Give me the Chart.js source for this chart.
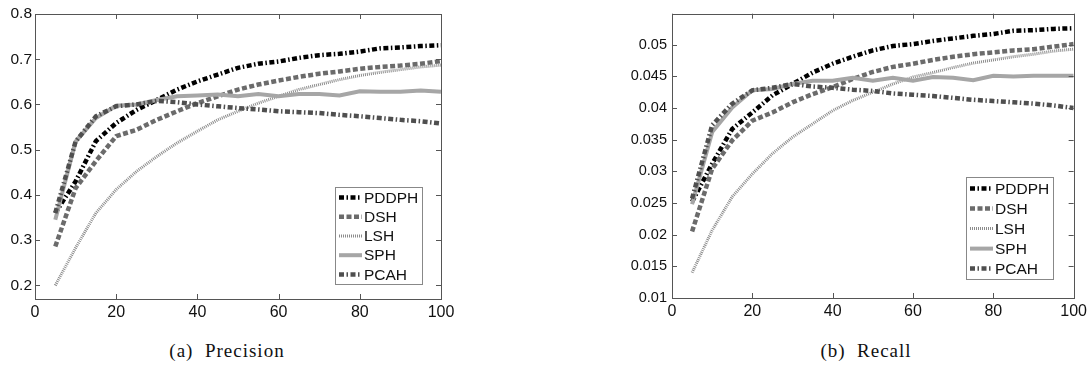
<!DOCTYPE html>
<html>
<head>
    <title>Precision / Recall</title>
    <style>
        body { margin: 0; background: #fff; width: 1091px; height: 365px; position: relative; overflow: hidden; }
        .panel { position: absolute; top: 0; }
        .caption {
            position: absolute;
            top: 340px;
            font-family: 'Liberation Serif', serif;
            font-size: 19px;
            letter-spacing: 1px;
            white-space: pre;
            color: #111;
            transform: translateX(-50%);
        }
    </style>
</head>
<body>

<div class="panel" style="left:0;width:460px;height:325px;">
    <canvas id="precChart" width="460" height="325"></canvas>
</div>
<div class="panel" style="left:590px;width:501px;height:325px;">
    <canvas id="recChart" width="501" height="325"></canvas>
</div>
<div class="caption" style="left:227px;">(a)  Precision</div>
<div class="caption" style="left:866px;">(b)  Recall</div>

<script src="https://cdn.jsdelivr.net/npm/chart.js"></script>
<script>
    // x = number of returned items
    const xVals = [5, 10, 15, 20, 25, 30, 35, 40, 45, 50, 55, 60, 65, 70, 75, 80, 85, 90, 95, 100];
    const xTicks = [0, 20, 40, 60, 80, 100];

    // (a) Precision
    const precPDDPH = [0.36, 0.43, 0.519, 0.559, 0.588, 0.61, 0.633, 0.651, 0.666, 0.681, 0.69, 0.695, 0.703, 0.709, 0.712, 0.717, 0.724, 0.726, 0.729, 0.731];
    const precDSH   = [0.286, 0.415, 0.475, 0.53, 0.544, 0.566, 0.585, 0.603, 0.618, 0.633, 0.644, 0.653, 0.661, 0.668, 0.673, 0.679, 0.683, 0.686, 0.69, 0.696];
    const precLSH   = [0.2, 0.283, 0.36, 0.412, 0.452, 0.485, 0.515, 0.541, 0.566, 0.585, 0.603, 0.618, 0.633, 0.644, 0.655, 0.664, 0.671, 0.677, 0.683, 0.687];
    const precSPH   = [0.345, 0.518, 0.57, 0.597, 0.6, 0.61, 0.618, 0.62, 0.622, 0.618, 0.623, 0.618, 0.623, 0.623, 0.62, 0.629, 0.628, 0.628, 0.631, 0.628];
    const precPCAH  = [0.36, 0.518, 0.574, 0.596, 0.6, 0.608, 0.605, 0.6, 0.596, 0.592, 0.589, 0.585, 0.583, 0.581, 0.577, 0.574, 0.57, 0.566, 0.563, 0.558];
    const precTicks = [0.2, 0.3, 0.4, 0.5, 0.6, 0.7, 0.8];

    // (b) Recall
    const recPDDPH = [0.0252, 0.0312, 0.0367, 0.0393, 0.042, 0.0438, 0.0456, 0.047, 0.0481, 0.0491, 0.0498, 0.0501, 0.0506, 0.051, 0.0514, 0.0517, 0.0522, 0.0523, 0.0525, 0.0526];
    const recDSH   = [0.0205, 0.0304, 0.0349, 0.038, 0.0393, 0.0409, 0.0422, 0.0433, 0.0446, 0.0457, 0.0465, 0.047, 0.0476, 0.0481, 0.0485, 0.0488, 0.0491, 0.0493, 0.0497, 0.0501];
    const recLSH   = [0.014, 0.0207, 0.026, 0.0296, 0.0328, 0.0354, 0.0375, 0.0396, 0.0412, 0.0425, 0.0438, 0.0449, 0.0456, 0.0464, 0.0471, 0.0476, 0.0481, 0.0485, 0.049, 0.0493];
    const recSPH   = [0.0248, 0.0362, 0.0401, 0.0428, 0.043, 0.0438, 0.0443, 0.0443, 0.0448, 0.0443, 0.0448, 0.0443, 0.0449, 0.0448, 0.0444, 0.0451, 0.045, 0.0451, 0.0451, 0.0451];
    const recPCAH  = [0.0257, 0.0373, 0.0407, 0.0428, 0.0432, 0.0438, 0.0434, 0.0432, 0.0429, 0.0427, 0.0423, 0.0421, 0.0419, 0.0416, 0.0413, 0.0411, 0.0409, 0.0407, 0.0404, 0.04];
    const recTicks = [0.01, 0.015, 0.02, 0.025, 0.03, 0.035, 0.04, 0.045, 0.05];

    const methods = ['PDDPH', 'DSH', 'LSH', 'SPH', 'PCAH'];

    // matlab-ish line styles, last one drawn on top
    const styles = {
        PDDPH: { borderColor: '#000000', borderWidth: 4.5, borderDash: [5, 2.5, 1.5, 2.5], order: 4 },
        DSH:   { borderColor: '#6b6b6b', borderWidth: 4.5, borderDash: [5, 2.5], order: 3 },
        LSH:   { borderColor: '#8c8c8c', borderWidth: 3, borderDash: [1, 1], order: 2 },
        SPH:   { borderColor: '#a6a6a6', borderWidth: 4, borderDash: [], order: 1 },
        PCAH:  { borderColor: '#4f4f4f', borderWidth: 4.5, borderDash: [5, 2.5, 1.5, 2.5], order: 0 }
    };

    // box + inward ticks on all sides, and the boxed legend
    const matlabFrame = {
        id: 'matlabFrame',
        afterDatasetsDraw(chart, args, opts) {
            const { ctx, chartArea: a, scales } = chart;
            ctx.save();
            ctx.setLineDash([]);
            ctx.strokeStyle = '#555';
            ctx.lineWidth = 1;
            ctx.strokeRect(Math.round(a.left) + 0.5, Math.round(a.top) + 0.5,
                Math.round(a.right - a.left), Math.round(a.bottom - a.top));
            const t = 5;
            ctx.beginPath();
            scales.x.ticks.forEach(tk => {
                const px = Math.round(scales.x.getPixelForValue(tk.value)) + 0.5;
                ctx.moveTo(px, a.bottom); ctx.lineTo(px, a.bottom - t);
                ctx.moveTo(px, a.top); ctx.lineTo(px, a.top + t);
            });
            scales.y.ticks.forEach(tk => {
                const py = Math.round(scales.y.getPixelForValue(tk.value)) + 0.5;
                ctx.moveTo(a.left, py); ctx.lineTo(a.left + t, py);
                ctx.moveTo(a.right, py); ctx.lineTo(a.right - t, py);
            });
            ctx.stroke();

            // legend
            const bx = Math.round(a.right - opts.right - opts.width);
            const by = Math.round(a.bottom - opts.bottom - opts.height);
            ctx.fillStyle = '#fff';
            ctx.fillRect(bx, by, opts.width, opts.height);
            ctx.strokeStyle = '#888';
            ctx.strokeRect(bx + 0.5, by + 0.5, opts.width, opts.height);
            ctx.font = '15.5px "Liberation Sans", Arial, sans-serif';
            ctx.textBaseline = 'middle';
            chart.data.datasets.forEach((ds, i) => {
                const y = by + opts.first + i * opts.gap;
                ctx.setLineDash(ds.borderDash || []);
                ctx.lineWidth = ds.borderWidth;
                ctx.strokeStyle = ds.borderColor;
                ctx.beginPath();
                ctx.moveTo(bx + 4, y);
                ctx.lineTo(bx + 27, y);
                ctx.stroke();
                ctx.setLineDash([]);
                ctx.fillStyle = '#111';
                ctx.fillText(ds.label, bx + 29, y + 1);
            });
            ctx.restore();
        }
    };

    function makeChart(id, series, yMin, yMax, yTicks, yFont, yWidth, pad, legendPos) {
        const datasets = methods.map((m, i) => Object.assign({
            label: m,
            data: xVals.map((x, j) => ({ x: x, y: series[i][j] })),
            pointRadius: 0,
            tension: 0,
            fill: false
        }, styles[m]));

        return new Chart(document.getElementById(id), {
            type: 'line',
            data: { datasets },
            plugins: [matlabFrame],
            options: {
                responsive: false,
                animation: false,
                layout: { padding: pad },
                plugins: {
                    legend: { display: false },
                    tooltip: { enabled: false },
                    matlabFrame: legendPos
                },
                scales: {
                    x: {
                        type: 'linear',
                        min: 0,
                        max: 100,
                        afterBuildTicks: s => { s.ticks = xTicks.map(v => ({ value: v })); },
                        afterFit: s => { s.height = pad.xh; },
                        grid: { display: false, drawTicks: false },
                        border: { display: false },
                        ticks: {
                            color: '#111',
                            padding: 4,
                            maxRotation: 0,
                            font: { family: '"Liberation Sans", Arial, sans-serif', size: 16 },
                            callback: v => String(v)
                        }
                    },
                    y: {
                        type: 'linear',
                        min: yMin,
                        max: yMax,
                        afterBuildTicks: s => { s.ticks = yTicks.map(v => ({ value: v })); },
                        afterFit: s => { s.width = yWidth; },
                        grid: { display: false, drawTicks: false },
                        border: { display: false },
                        ticks: {
                            color: '#111',
                            padding: yFont > 15 ? 3 : 5,
                            font: { family: '"Liberation Sans", Arial, sans-serif', size: yFont },
                            callback: v => String(v)
                        }
                    }
                }
            }
        });
    }

    makeChart('precChart', [precPDDPH, precDSH, precLSH, precSPH, precPCAH],
        0.17, 0.8, precTicks, 15.5, 35,
        { top: 14, right: 19, left: 0, bottom: 0, xh: 26 },
        { right: 19, bottom: 15, width: 87, height: 97, first: 10.6, gap: 19.2 });

    makeChart('recChart', [recPDDPH, recDSH, recLSH, recSPH, recPCAH],
        0.01, 0.0549, recTicks, 14.5, 82,
        { top: 13, right: 14, left: 0, bottom: 0, xh: 27 },
        { right: 21, bottom: 19, width: 87, height: 102, first: 11.6, gap: 20 });
</script>

</body>
</html>
